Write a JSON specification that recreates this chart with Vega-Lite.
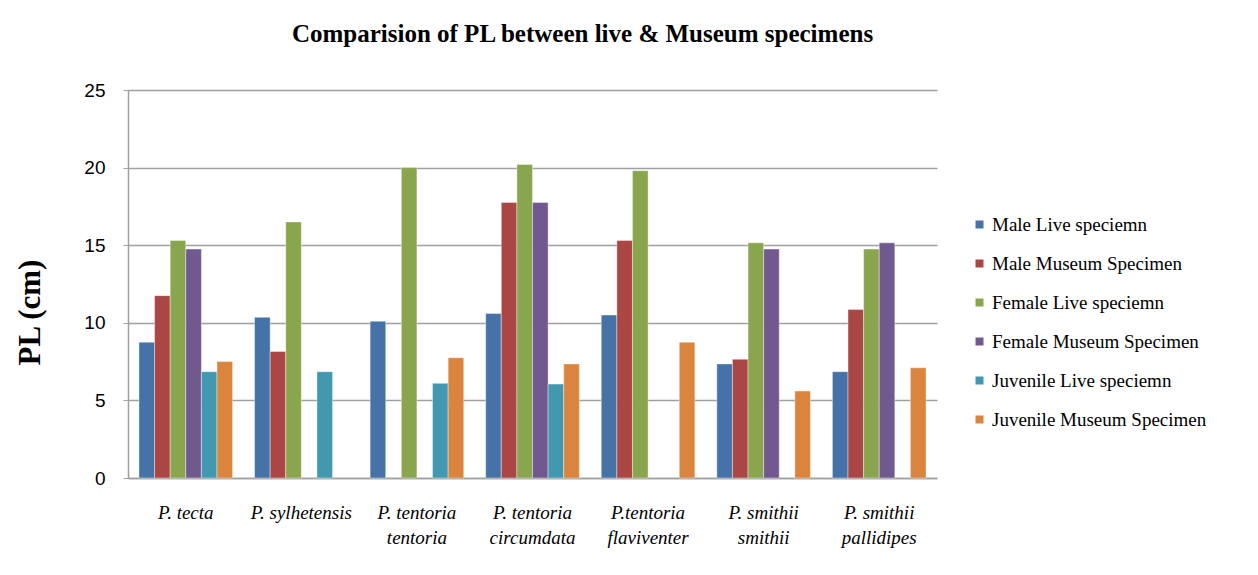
{
  "$schema": "https://vega.github.io/schema/vega-lite/v6.json",
  "autosize": {"type": "none"},
  "width": 809,
  "height": 388,
  "padding": {"left": 128, "top": 90, "right": 321, "bottom": 97},
  "background": "white",
  "title": {
    "text": "Comparision of PL between live & Museum specimens",
    "font": "Liberation Serif",
    "fontSize": 25,
    "fontWeight": "bold",
    "color": "#000000",
    "anchor": "middle",
    "dx": 50,
    "offset": 34
  },
  "data": {
    "values": [
      {"species": "P. tecta", "type": "Male Live speciemn", "PL": 8.75},
      {"species": "P. tecta", "type": "Male Museum Specimen", "PL": 11.75},
      {"species": "P. tecta", "type": "Female Live speciemn", "PL": 15.3},
      {"species": "P. tecta", "type": "Female Museum Specimen", "PL": 14.75},
      {"species": "P. tecta", "type": "Juvenile Live speciemn", "PL": 6.85},
      {"species": "P. tecta", "type": "Juvenile Museum Specimen", "PL": 7.5},
      {"species": "P. sylhetensis", "type": "Male Live speciemn", "PL": 10.35},
      {"species": "P. sylhetensis", "type": "Male Museum Specimen", "PL": 8.15},
      {"species": "P. sylhetensis", "type": "Female Live speciemn", "PL": 16.5},
      {"species": "P. sylhetensis", "type": "Juvenile Live speciemn", "PL": 6.85},
      {"species": "P. tentoria tentoria", "type": "Male Live speciemn", "PL": 10.1},
      {"species": "P. tentoria tentoria", "type": "Female Live speciemn", "PL": 20.0},
      {"species": "P. tentoria tentoria", "type": "Juvenile Live speciemn", "PL": 6.1},
      {"species": "P. tentoria tentoria", "type": "Juvenile Museum Specimen", "PL": 7.75},
      {"species": "P. tentoria circumdata", "type": "Male Live speciemn", "PL": 10.6},
      {"species": "P. tentoria circumdata", "type": "Male Museum Specimen", "PL": 17.75},
      {"species": "P. tentoria circumdata", "type": "Female Live speciemn", "PL": 20.2},
      {"species": "P. tentoria circumdata", "type": "Female Museum Specimen", "PL": 17.75},
      {"species": "P. tentoria circumdata", "type": "Juvenile Live speciemn", "PL": 6.05},
      {"species": "P. tentoria circumdata", "type": "Juvenile Museum Specimen", "PL": 7.35},
      {"species": "P.tentoria flaviventer", "type": "Male Live speciemn", "PL": 10.5},
      {"species": "P.tentoria flaviventer", "type": "Male Museum Specimen", "PL": 15.3},
      {"species": "P.tentoria flaviventer", "type": "Female Live speciemn", "PL": 19.8},
      {"species": "P.tentoria flaviventer", "type": "Juvenile Museum Specimen", "PL": 8.75},
      {"species": "P. smithii smithii", "type": "Male Live speciemn", "PL": 7.35},
      {"species": "P. smithii smithii", "type": "Male Museum Specimen", "PL": 7.65},
      {"species": "P. smithii smithii", "type": "Female Live speciemn", "PL": 15.15},
      {"species": "P. smithii smithii", "type": "Female Museum Specimen", "PL": 14.75},
      {"species": "P. smithii smithii", "type": "Juvenile Museum Specimen", "PL": 5.6},
      {"species": "P. smithii pallidipes", "type": "Male Live speciemn", "PL": 6.85},
      {"species": "P. smithii pallidipes", "type": "Male Museum Specimen", "PL": 10.85},
      {"species": "P. smithii pallidipes", "type": "Female Live speciemn", "PL": 14.75},
      {"species": "P. smithii pallidipes", "type": "Female Museum Specimen", "PL": 15.15},
      {"species": "P. smithii pallidipes", "type": "Juvenile Museum Specimen", "PL": 7.1}
    ]
  },
  "mark": {"type": "bar", "stroke": "#ffffff", "strokeOpacity": 0.5, "strokeWidth": 0.8},
  "encoding": {
    "x": {
      "field": "species",
      "type": "nominal",
      "sort": ["P. tecta", "P. sylhetensis", "P. tentoria tentoria", "P. tentoria circumdata", "P.tentoria flaviventer", "P. smithii smithii", "P. smithii pallidipes"],
      "scale": {"paddingInner": 0.19, "paddingOuter": 0.095},
      "axis": {
        "title": null,
        "labelAngle": 0,
        "labelFont": "Liberation Serif",
        "labelFontStyle": "italic",
        "labelFontSize": 19,
        "labelColor": "#000000",
        "labelPadding": 25,
        "labelLineHeight": 25,
        "labelBaseline": "top",
        "labelLimit": 200,
        "ticks": false,
        "domainColor": "#a0a0a0",
        "domainWidth": 1.5,
        "labelExpr": "lastindexof(datum.label, ' ') > 3 ? [substring(datum.label, 0, lastindexof(datum.label, ' ')), substring(datum.label, lastindexof(datum.label, ' ') + 1)] : datum.label"
      }
    },
    "xOffset": {
      "field": "type",
      "type": "nominal",
      "sort": ["Male Live speciemn", "Male Museum Specimen", "Female Live speciemn", "Female Museum Specimen", "Juvenile Live speciemn", "Juvenile Museum Specimen"],
      "scale": {"paddingInner": 0, "paddingOuter": 0}
    },
    "y": {
      "field": "PL",
      "type": "quantitative",
      "scale": {"domain": [0, 25], "nice": false},
      "axis": {
        "title": "PL (cm)",
        "titleFont": "Liberation Serif",
        "titleFontSize": 31,
        "titleFontWeight": "bold",
        "titleColor": "#000000",
        "titleAngle": -90,
        "titleX": -98,
        "titleY": 222,
        "titleAlign": "center",
        "titleBaseline": "middle",
        "values": [0, 5, 10, 15, 20, 25],
        "labelFont": "Liberation Sans",
        "labelFontSize": 19,
        "labelColor": "#000000",
        "labelPadding": 18,
        "tickSize": 5,
        "tickColor": "#a0a0a0",
        "domainColor": "#a0a0a0",
        "domainWidth": 1.5,
        "gridColor": "#a0a0a0",
        "gridWidth": 1.5
      }
    },
    "color": {
      "field": "type",
      "type": "nominal",
      "scale": {
        "domain": ["Male Live speciemn", "Male Museum Specimen", "Female Live speciemn", "Female Museum Specimen", "Juvenile Live speciemn", "Juvenile Museum Specimen"],
        "range": ["#4572A7", "#AA4643", "#89A54E", "#71588F", "#4198AF", "#DB843D"]
      },
      "legend": {
        "title": null,
        "orient": "none",
        "legendX": 842,
        "legendY": 125,
        "symbolType": "square",
        "symbolSize": 64,
        "symbolStrokeWidth": 0,
        "labelFont": "Liberation Serif",
        "labelFontSize": 19,
        "labelColor": "#000000",
        "labelOffset": 3,
        "labelLimit": 300,
        "rowPadding": 19
      }
    }
  },
  "config": {
    "view": {"stroke": null}
  }
}
